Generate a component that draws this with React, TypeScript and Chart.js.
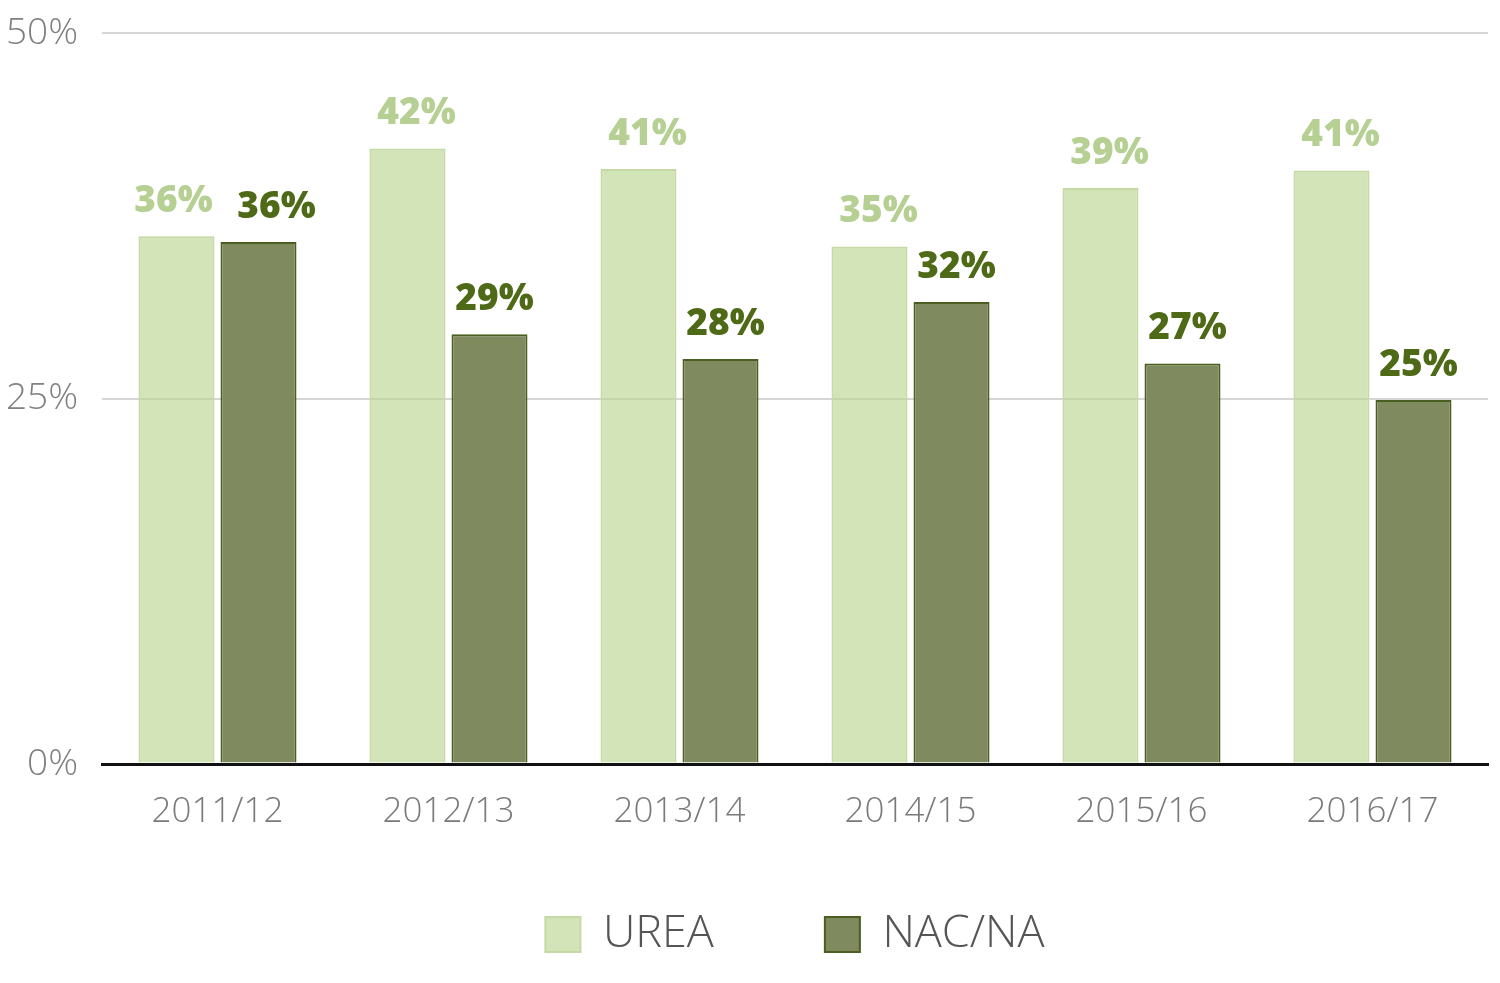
import React, { useEffect, useRef } from "react";
import { Chart, registerables } from "chart.js";

Chart.register(...registerables);

const categories = ["2011/12", "2012/13", "2013/14", "2014/15", "2015/16", "2016/17"];
const ureaValues = [36.1, 42.1, 40.7, 35.4, 39.4, 40.6];
const nacValues = [35.7, 29.4, 27.7, 31.6, 27.4, 24.9];
const seriesNames = ["UREA", "NAC/NA"];
const yTicks = [0, 25, 50];

const FONT = "'Open Sans', 'Noto Sans', sans-serif";

const labelPlugin = {
  id: "barValueLabels",
  afterLayout(chart: any) {
    // let the x tick labels extend below the (deliberately short) axis box without clipping
    const x = chart.scales.x;
    if (x) x.bottom = x.top + 80;
  },
  afterDatasetsDraw(chart: any) {
    const ctx = chart.ctx;
    const colors = ["#b6cf92", "#4e6a17"];
    const m0 = chart.getDatasetMeta(0);
    const m1 = chart.getDatasetMeta(1);
    ctx.save();
    ctx.font = `800 37px ${FONT}`;
    ctx.textAlign = "center";
    ctx.textBaseline = "alphabetic";
    [m0, m1].forEach((meta: any, di: number) => {
      meta.data.forEach((el: any, i: number) => {
        const a = chart.data.datasets[0].data[i];
        const b = chart.data.datasets[1].data[i];
        const close = Math.abs(a - b) < 3;
        let dx = di === 0 ? 9 : 5;
        if (close) dx = di === 0 ? -3 : 18;
        const v = chart.data.datasets[di].data[i];
        ctx.fillStyle = colors[di];
        ctx.fillText(Math.round(v) + "%", el.x + dx, el.y - 24);
      });
    });
    ctx.restore();
  },
};

export default function App() {
  const ref = useRef<HTMLCanvasElement | null>(null);
  useEffect(() => {
    document.body.style.margin = "0";
    const chart = new Chart(ref.current as HTMLCanvasElement, {
      type: "bar",
      data: {
        labels: categories,
        datasets: [
          {
            label: seriesNames[0],
            data: ureaValues,
            backgroundColor: "rgba(188,213,148,0.65)",
            borderColor: "#c4d9a4",
            borderWidth: 2,
            categoryPercentage: 0.71,
            barPercentage: 0.927,
          },
          {
            label: seriesNames[1],
            data: nacValues,
            backgroundColor: "#7f8a5f",
            borderColor: "#4a5e1f",
            borderWidth: 2,
            categoryPercentage: 0.71,
            barPercentage: 0.927,
          },
        ],
      },
      options: {
        animation: false,
        responsive: true,
        maintainAspectRatio: false,
        layout: { padding: { top: 33, right: 12, bottom: 16, left: 0 } },
        plugins: {
          tooltip: { enabled: false },
          legend: {
            position: "bottom",
            fullSize: false,
            labels: {
              boxWidth: 35,
              boxHeight: 35,
              padding: 111,
              color: "#555555",
              font: { family: FONT, size: 45, weight: "300" as any },
            },
          },
        },
        scales: {
          x: {
            grid: { display: false, drawTicks: false },
            border: { display: true, color: "#111111", width: 3, z: 1 },
            ticks: {
              color: "#7a7a7a",
              padding: 27,
              font: { family: FONT, size: 35, weight: "300" as any },
            },
            afterFit: (s: any) => {
              s.height = 37;
            },
          },
          y: {
            min: 0,
            max: 50,
            afterBuildTicks: (s: any) => {
              s.ticks = yTicks.map((v) => ({ value: v }));
            },
            grid: {
              drawTicks: false,
              color: (c: any) => (c.tick && c.tick.value === 0 ? "#111111" : "#d6d6d6"),
              lineWidth: (c: any) => (c.tick && c.tick.value === 0 ? 3 : 2),
            },
            border: { display: false },
            ticks: {
              color: "#808080",
              padding: 24,
              font: { family: FONT, size: 37, weight: "300" as any },
              callback: (v: any) => v + "%",
            },
            afterFit: (s: any) => {
              s.width = 102;
              s.paddingTop = 0;
              s.paddingBottom = 0;
            },
          },
        },
      },
      plugins: [labelPlugin],
    });
    return () => chart.destroy();
  }, []);
  return (
    <div style={{ position: "fixed", left: 0, top: 0, width: 1500, height: 983, background: "#fff" }}>
      <canvas ref={ref} />
    </div>
  );
}
